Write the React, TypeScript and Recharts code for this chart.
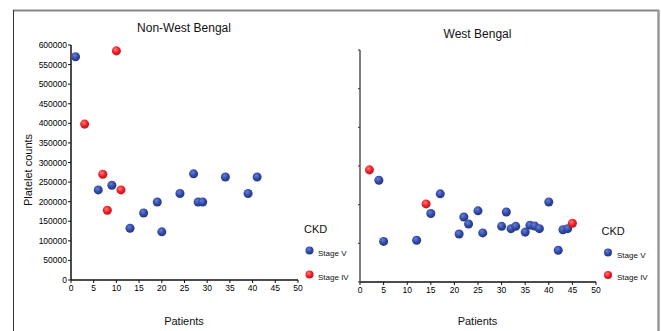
import React from 'react';
import { ScatterChart, Scatter, XAxis, YAxis, ZAxis } from 'recharts';

// patient numbers and platelet counts
const nonWbStageVX = [1, 6, 9, 13, 16, 19, 20, 24, 27, 28, 29, 34, 39, 41];
const nonWbStageVY = [570000, 230000, 242000, 132000, 171000, 199000, 123000, 221000, 271000, 199000, 199000, 263000, 221000, 263000];
const nonWbStageIVX = [3, 7, 8, 10, 11];
const nonWbStageIVY = [398000, 270000, 178000, 585000, 230000];

const wbStageVX = [4, 5, 12, 15, 17, 21, 22, 23, 25, 26, 30, 31, 32, 33, 35, 36, 37, 38, 40, 42, 43, 44];
const wbStageVY = [263000, 105000, 108000, 177000, 228000, 124000, 168000, 150000, 184000, 127000, 144000, 181000, 138000, 144000, 129000, 147000, 145000, 138000, 207000, 82000, 135000, 138000];
const wbStageIVX = [2, 14, 45];
const wbStageIVY = [290000, 202000, 152000];

const xTicks = [0, 5, 10, 15, 20, 25, 30, 35, 40, 45, 50];
const yTicks = [0, 50000, 100000, 150000, 200000, 250000, 300000, 350000, 400000, 450000, 500000, 550000, 600000];

const zip = (xs: number[], ys: number[]) => xs.map((x, i) => ({ x, y: ys[i] }));

const FONT = 'Arial, "Liberation Sans", sans-serif';
const tickStyle = { fontSize: 8.5, fill: '#000', fontFamily: FONT };

const Balls = () => (
  <defs>
    <radialGradient id="blueBall" cx="40%" cy="35%" r="70%">
      <stop offset="0%" stopColor="#6a7fd2" />
      <stop offset="55%" stopColor="#3048a6" />
      <stop offset="100%" stopColor="#1f3483" />
    </radialGradient>
    <radialGradient id="redBall" cx="40%" cy="35%" r="70%">
      <stop offset="0%" stopColor="#ff7a7a" />
      <stop offset="55%" stopColor="#ee1c25" />
      <stop offset="100%" stopColor="#c0121a" />
    </radialGradient>
  </defs>
);

const NoLabel = () => <g />;

const App = () => {
  return (
    <div style={{ position: 'absolute', left: 0, top: 0, width: 661, height: 331, background: '#fff', fontFamily: FONT }}>
      {/* Non-West Bengal */}
      <div style={{ position: 'absolute', left: 0, top: 0 }}>
        <ScatterChart width={330} height={331} margin={{ top: 45, right: 32, bottom: 21, left: 0 }}>
          <Balls />
          <XAxis
            type="number"
            dataKey="x"
            domain={[0, 50]}
            ticks={xTicks}
            height={30}
            tick={tickStyle}
            tickSize={3}
            tickMargin={2}
            axisLine={{ stroke: '#111', strokeWidth: 1.5 }}
            tickLine={{ stroke: '#111' }}
          />
          <YAxis
            type="number"
            dataKey="y"
            domain={[0, 600000]}
            ticks={yTicks}
            width={71}
            tick={tickStyle}
            tickSize={3}
            tickMargin={1}
            axisLine={{ stroke: '#111', strokeWidth: 1.5 }}
            tickLine={{ stroke: '#111' }}
          />
          <ZAxis range={[64, 64]} />
          <Scatter data={zip(nonWbStageVX, nonWbStageVY)} fill="url(#blueBall)" isAnimationActive={false} />
          <Scatter data={zip(nonWbStageIVX, nonWbStageIVY)} fill="url(#redBall)" isAnimationActive={false} />
        </ScatterChart>
      </div>

      {/* West Bengal */}
      <div style={{ position: 'absolute', left: 330, top: 0 }}>
        <ScatterChart width={331} height={331} margin={{ top: 50, right: 65, bottom: 19, left: 0 }}>
          <Balls />
          <XAxis
            type="number"
            dataKey="x"
            domain={[0, 50]}
            ticks={xTicks}
            height={30}
            tick={tickStyle}
            tickSize={3}
            tickMargin={2}
            axisLine={{ stroke: '#111', strokeWidth: 1.5 }}
            tickLine={{ stroke: '#111' }}
          />
          <YAxis
            type="number"
            dataKey="y"
            domain={[0, 600000]}
            ticks={yTicks}
            width={30}
            tick={NoLabel}
            tickSize={2}
            axisLine={{ stroke: '#555', strokeWidth: 1.5 }}
            tickLine={{ stroke: '#333' }}
          />
          <ZAxis range={[64, 64]} />
          <Scatter data={zip(wbStageVX, wbStageVY)} fill="url(#blueBall)" isAnimationActive={false} />
          <Scatter data={zip(wbStageIVX, wbStageIVY)} fill="url(#redBall)" isAnimationActive={false} />
        </ScatterChart>
      </div>

      {/* frame, titles, labels, legends */}
      <svg width={661} height={331} style={{ position: 'absolute', left: 0, top: 0, pointerEvents: 'none' }}>
        <Balls />
        <line x1={13} y1={10.5} x2={659} y2={10.5} stroke="#888" strokeWidth={2} />
        <line x1={13.5} y1={10} x2={13.5} y2={331} stroke="#333" strokeWidth={1} />
        <line x1={658.5} y1={10} x2={658.5} y2={331} stroke="#999" strokeWidth={2.5} />

        <text x={184} y={31.5} textAnchor="middle" fontSize={12} fill="#111" fontFamily={FONT}>Non-West Bengal</text>
        <text x={477.5} y={37.5} textAnchor="middle" fontSize={12} fill="#111" fontFamily={FONT}>West Bengal</text>

        <text x={32} y={170} transform="rotate(-90 32 170)" textAnchor="middle" fontSize={11} fill="#111" fontFamily={FONT}>Platelet counts</text>
        <text x={184} y={325} textAnchor="middle" fontSize={11} fill="#111" fontFamily={FONT}>Patients</text>
        <text x={477.5} y={325} textAnchor="middle" fontSize={11} fill="#111" fontFamily={FONT}>Patients</text>

        <text x={304} y={233} fontSize={11} fill="#111" fontFamily={FONT}>CKD</text>
        <circle cx={309.5} cy={250.5} r={4} fill="url(#blueBall)" />
        <text x={318} y={256} fontSize={8} fill="#111" fontFamily={FONT}>Stage V</text>
        <circle cx={309.5} cy={274.5} r={4} fill="url(#redBall)" />
        <text x={318} y={279.5} fontSize={8} fill="#111" fontFamily={FONT}>Stage IV</text>

        <text x={601.5} y={235} fontSize={11} fill="#111" fontFamily={FONT}>CKD</text>
        <circle cx={608} cy={252.5} r={4} fill="url(#blueBall)" />
        <text x={617} y={257.5} fontSize={8} fill="#111" fontFamily={FONT}>Stage V</text>
        <circle cx={608} cy={275} r={4} fill="url(#redBall)" />
        <text x={617} y={280} fontSize={8} fill="#111" fontFamily={FONT}>Stage IV</text>
      </svg>
    </div>
  );
};

export default App;
